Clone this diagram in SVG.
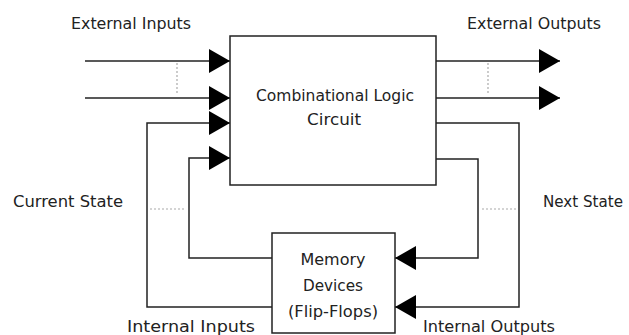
<svg xmlns="http://www.w3.org/2000/svg" width="629" height="335" viewBox="0 0 629 335">
<style>
.t{font-family:"DejaVu Sans","Liberation Sans",sans-serif;font-size:16px;fill:#222}
.box{fill:#fff;stroke:#222;stroke-width:1.5}
.c{fill:none;stroke:#222;stroke-width:1.5}
.d{fill:none;stroke:#aaa;stroke-width:1.2;stroke-dasharray:2 2}
</style>
<defs>
<marker id="ah" markerUnits="userSpaceOnUse" markerWidth="22" markerHeight="24" refX="21" refY="12" orient="auto">
<path d="M0,0 L21,12 L0,24 z" fill="#000"/>
</marker>
</defs>
<rect width="629" height="335" fill="#fff"/>
<g id="connectors">
<path class="c" d="M85,61 H230" marker-end="url(#ah)"/>
<path class="c" d="M85,98 H230" marker-end="url(#ah)"/>
<path class="c" d="M272,307 H147 V123 H230" marker-end="url(#ah)"/>
<path class="c" d="M272,258 H189 V158 H230" marker-end="url(#ah)"/>
<path class="c" d="M436,61 H560" marker-end="url(#ah)"/>
<path class="c" d="M436,98 H560" marker-end="url(#ah)"/>
<path class="c" d="M436,123 H519 V307 H395" marker-end="url(#ah)"/>
<path class="c" d="M436,159 H478 V258 H395" marker-end="url(#ah)"/>
<path class="d" d="M177,63 V93"/>
<path class="d" d="M488,63 V93"/>
<path class="d" d="M150,209 H185"/>
<path class="d" d="M482,209 H518"/>
</g>
<g id="logic">
<rect class="box" x="230" y="36" width="206" height="149"/>
<text class="t" x="335" y="101" text-anchor="middle" textLength="158" lengthAdjust="spacingAndGlyphs">Combinational Logic</text>
<text class="t" x="334" y="125" text-anchor="middle" textLength="54" lengthAdjust="spacingAndGlyphs">Circuit</text>
</g>
<g id="memory">
<rect class="box" x="272" y="233" width="123" height="100"/>
<text class="t" x="333" y="265" text-anchor="middle" textLength="65" lengthAdjust="spacingAndGlyphs">Memory</text>
<text class="t" x="333" y="291" text-anchor="middle" textLength="60" lengthAdjust="spacingAndGlyphs">Devices</text>
<text class="t" x="333" y="317" text-anchor="middle" textLength="90" lengthAdjust="spacingAndGlyphs">(Flip-Flops)</text>
</g>
<g id="labels">
<text class="t" x="71" y="29" textLength="120" lengthAdjust="spacingAndGlyphs">External Inputs</text>
<text class="t" x="467" y="29" textLength="134" lengthAdjust="spacingAndGlyphs">External Outputs</text>
<text class="t" x="13" y="207" textLength="110" lengthAdjust="spacingAndGlyphs">Current State</text>
<text class="t" x="543" y="207" textLength="80" lengthAdjust="spacingAndGlyphs">Next State</text>
<text class="t" x="127" y="332" textLength="128" lengthAdjust="spacingAndGlyphs">Internal Inputs</text>
<text class="t" x="423" y="332" textLength="132" lengthAdjust="spacingAndGlyphs">Internal Outputs</text>
</g>
</svg>
